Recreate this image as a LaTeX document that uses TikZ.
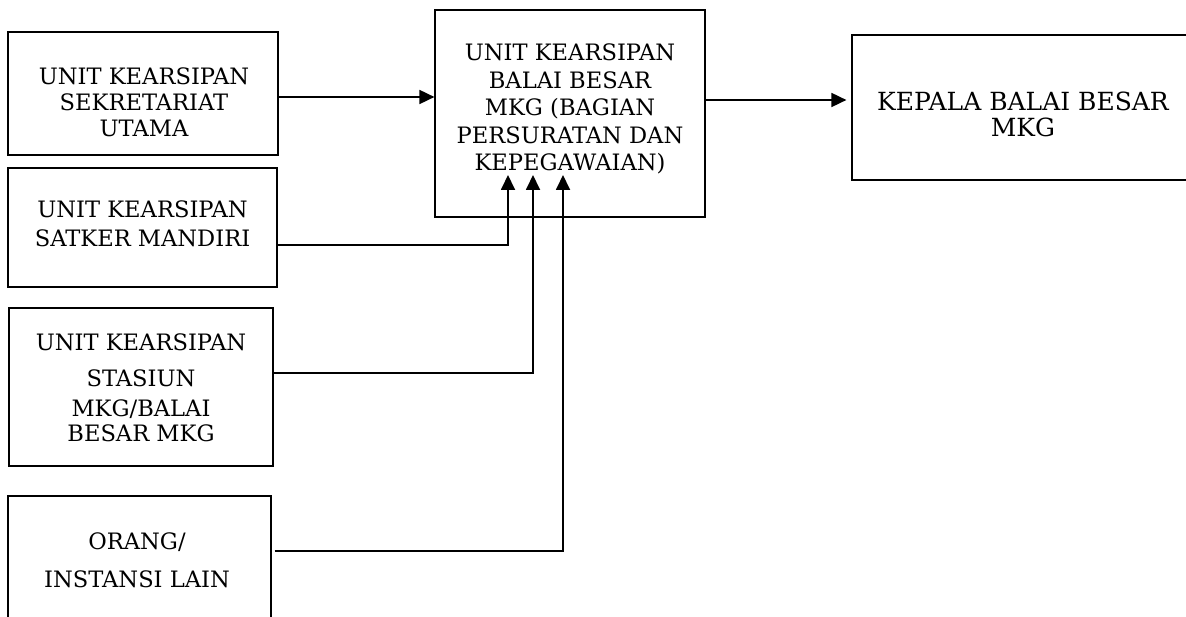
\documentclass[tikz,border=0pt]{standalone}
\usepackage{fontspec}
\setmainfont{DejaVu Serif}
\usetikzlibrary{arrows.meta}
\tikzset{
  box/.style={draw, line width=1.2pt, inner sep=0pt},
  lbl/.style={align=center, inner sep=0pt},
  arr/.style={line width=1.8pt, -{Triangle[length=15pt,width=14pt]}}
}
\begin{document}
\begin{tikzpicture}[x=1pt,y=-1pt]
\useasboundingbox (0,0) rectangle (1186,617);
\clip (0,0) rectangle (1186,617);
% boxes
\node[box, minimum width=270pt, minimum height=123pt] (b1) at (143,93.5) {};
\node[box, minimum width=269pt, minimum height=119pt] (b2) at (142.5,227.5) {};
\node[box, minimum width=264pt, minimum height=158pt] (b3) at (141,387) {};
\node[box, minimum width=263pt, minimum height=150pt] (b4) at (139.5,571) {};
\node[box, minimum width=270pt, minimum height=207pt] (c) at (570,113.5) {};
\node[box, minimum width=350pt, minimum height=145pt] (k) at (1027,107.5) {};
% texts
\node[lbl, font=\fontsize{22.6}{26}\selectfont] (t1) at (144,102) {UNIT KEARSIPAN\\SEKRETARIAT\\UTAMA};
\node[lbl, font=\fontsize{22.6}{29}\selectfont] (t2) at (142.5,224) {UNIT KEARSIPAN\\SATKER MANDIRI};
\node[lbl, font=\fontsize{22.6}{30}\selectfont] (t3) at (141,388) {UNIT KEARSIPAN\\[6pt]STASIUN\\MKG/BALAI\\[-5pt]BESAR MKG};
\node[lbl, font=\fontsize{22.6}{38}\selectfont] (t4) at (137,560) {ORANG/\\INSTANSI LAIN};
\node[lbl, font=\fontsize{22.6}{27.5}\selectfont] (tc) at (570,109) {UNIT KEARSIPAN\\BALAI BESAR\\MKG (BAGIAN\\PERSURATAN DAN\\KEPEGAWAIAN)};
\node[lbl, font=\fontsize{25}{26}\selectfont] (tk) at (1023,114) {KEPALA BALAI BESAR\\MKG};
% arrow endpoints
\coordinate (a1) at (508,175);
\coordinate (a2) at (533,175);
\coordinate (a3) at (563,175);
% connectors
\draw[arr] (b1.east |- 0,97) -- (c.west |- 0,97);
\draw[arr, shorten >=5pt] (c.east |- 0,100) -- (k.west |- 0,100);
\draw[arr] (b2.east |- 0,245) -| (a1);
\draw[arr] (b3.east |- 0,373) -| (a2);
\draw[arr] ([xshift=3pt]b4.east |- 0,551) -| (a3);
\end{tikzpicture}
\end{document}
